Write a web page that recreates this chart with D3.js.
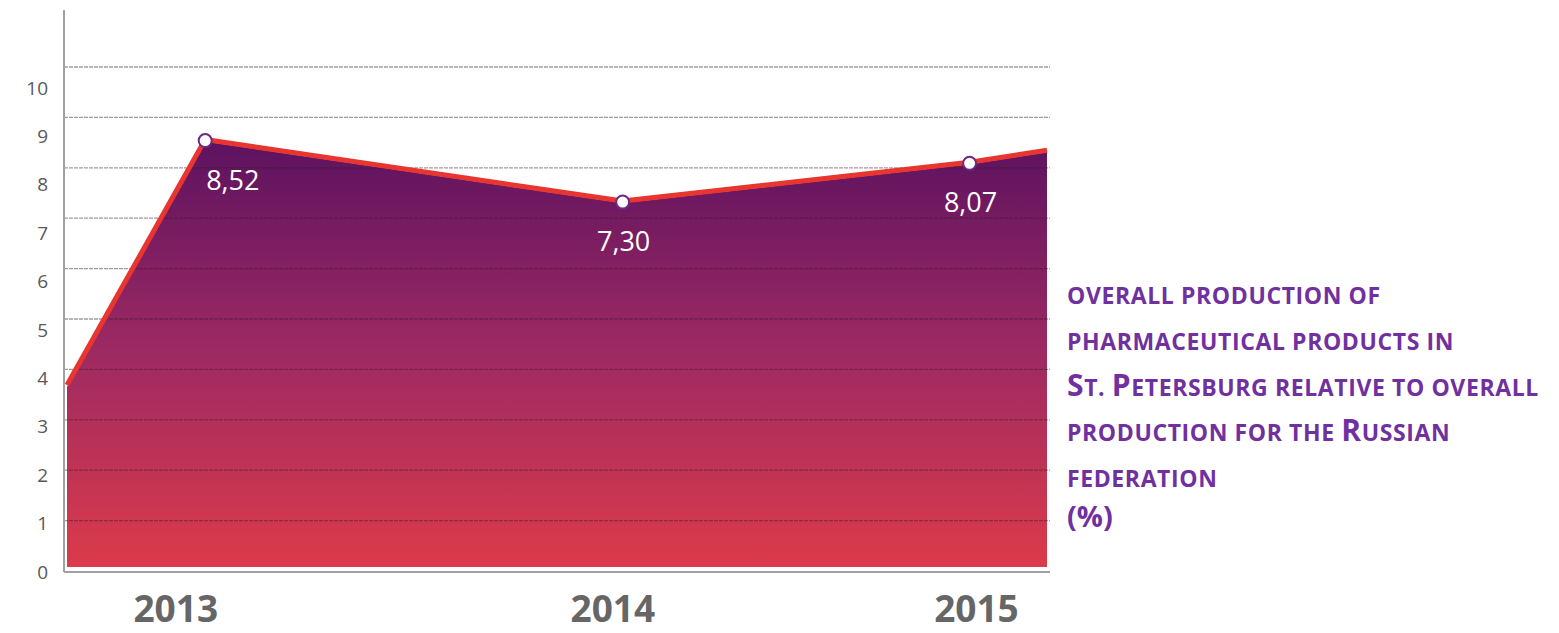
<!DOCTYPE html>
<html lang="en">
  <head>
    <meta charset="utf-8">
    <title>Pharmaceutical production St. Petersburg</title>
    <script src="https://d3js.org/d3.v7.min.js" charset="utf-8"></script>
    <style type="text/css">
      body {
        margin: 0;
        background: white;
        font-family: "Open Sans", "Noto Sans", sans-serif;
      }
    </style>
  </head>
  <body>
    <script>
      var width = 1559;
      var height = 633;

      // years shown under the chart and their values (%)
      var years = ["2013", "2014", "2015"];
      var values = [8.52, 7.30, 8.07];
      // where the series starts and ends (outside the labelled years)
      var startValue = 3.65;
      var endValue = 8.31;
      // horizontal position of every point, as share of the plot width
      var pointPos = [0, 0.141, 0.567, 0.921, 1];
      var yearLabelPos = [0.111, 0.557, 0.928];
      var yTicks = [0, 1, 2, 3, 4, 5, 6, 7, 8, 9, 10];
      var titleLines = [
        "overall production of",
        "pharmaceutical products in",
        "St. Petersburg relative to overall",
        "production for the Russian",
        "federation"
      ];
      var unitLabel = "(%)";

      var series = [startValue].concat(values, [endValue]);
      var points = series.map(function(v, i) { return { x: pointPos[i], v: v }; });

      var svg = d3.select("body")
        .append("svg")
        .attr("width", width)
        .attr("height", height);

      var x = d3.scaleLinear().domain([0, 1]).range([67, 1047]);
      var y = d3.scaleLinear().domain([0, 10]).range([571, 67]);
      // tick labels sit a little below the grid in the original
      var yLab = d3.scaleLinear().domain([0, 10]).range([572, 88]);

      // gradient fill
      var grad = svg.append("defs").append("linearGradient")
        .attr("id", "fillGrad")
        .attr("gradientUnits", "userSpaceOnUse")
        .attr("x1", 0).attr("x2", 0)
        .attr("y1", 140).attr("y2", 567);
      grad.append("stop").attr("offset", "0%").attr("stop-color", "#5c1260");
      grad.append("stop").attr("offset", "50%").attr("stop-color", "#9e2a62");
      grad.append("stop").attr("offset", "100%").attr("stop-color", "#dc3b4a");

      // area
      var area = d3.area()
        .x(function(d) { return x(d.x); })
        .y0(567)
        .y1(function(d) { return y(d.v); });

      svg.append("path")
        .datum(points)
        .attr("fill", "url(#fillGrad)")
        .attr("d", area);

      // gridlines drawn over the area
      svg.append("g")
        .selectAll("line")
        .data(yTicks.slice(1))
        .enter()
        .append("line")
        .attr("x1", 64)
        .attr("x2", 1050)
        .attr("y1", function(d) { return y(d); })
        .attr("y2", function(d) { return y(d); })
        .attr("stroke", "#3a1a28")
        .attr("stroke-opacity", 0.45)
        .attr("stroke-width", 1.3)
        .attr("stroke-dasharray", "4,1");

      // red line on top of the area
      var line = d3.line()
        .x(function(d) { return x(d.x); })
        .y(function(d) { return y(d.v) - 2; });

      svg.append("path")
        .datum(points)
        .attr("fill", "none")
        .attr("stroke", "#e8352f")
        .attr("stroke-width", 5)
        .attr("stroke-linejoin", "round")
        .attr("d", line);

      // axes lines
      svg.append("line")
        .attr("x1", 64).attr("x2", 64)
        .attr("y1", 10).attr("y2", 572)
        .attr("stroke", "#a0a0a0").attr("stroke-width", 2);
      svg.append("line")
        .attr("x1", 64).attr("x2", 1050)
        .attr("y1", 572).attr("y2", 572)
        .attr("stroke", "#a0a0a0").attr("stroke-width", 2);

      // y tick labels
      var yAxis = svg.append("g")
        .attr("transform", "translate(48,0)")
        .call(d3.axisLeft(yLab).tickValues(yTicks).tickSize(0).tickPadding(0));
      yAxis.select(".domain").remove();
      yAxis.selectAll("text")
        .attr("font-family", "Open Sans")
        .attr("font-size", 19)
        .attr("fill", "#595959");

      // markers
      var marked = points.slice(1, 4);
      svg.append("g")
        .selectAll("circle")
        .data(marked)
        .enter()
        .append("circle")
        .attr("cx", function(d) { return x(d.x); })
        .attr("cy", function(d) { return y(d.v) - 1; })
        .attr("r", 6.5)
        .attr("fill", "white")
        .attr("stroke", "#6b2a86")
        .attr("stroke-width", 2);

      // value labels
      svg.append("g")
        .selectAll("text")
        .data(marked)
        .enter()
        .append("text")
        .attr("x", function(d) { return x(d.x) + 1; })
        .attr("y", function(d) { return y(d.v) + 48; })
        .attr("text-anchor", function(d, i) { return i === 0 ? "start" : "middle"; })
        .attr("font-size", 27)
        .attr("fill", "white")
        .text(function(d) { return d.v.toFixed(2).replace(".", ","); });

      // year labels
      svg.append("g")
        .selectAll("text")
        .data(years)
        .enter()
        .append("text")
        .attr("x", function(d, i) { return x(yearLabelPos[i]); })
        .attr("y", 622)
        .attr("text-anchor", "middle")
        .attr("font-size", 37)
        .attr("font-weight", "bold")
        .attr("fill", "#666666")
        .text(function(d) { return d; });

      // title on the right, small caps built from two sizes
      var title = svg.append("g")
        .attr("font-weight", "bold")
        .attr("fill", "#7030a0");

      titleLines.forEach(function(s, i) {
        var t = title.append("text")
          .attr("x", 1067)
          .attr("y", 304 + i * 45.8)
          .attr("letter-spacing", 0.6);
        t.selectAll("tspan")
          .data(s.split(""))
          .enter()
          .append("tspan")
          .attr("font-size", function(c) {
            return (c !== c.toLowerCase()) ? 30 : 23;
          })
          .text(function(c) { return c.toUpperCase(); });
      });

      title.append("text")
        .attr("x", 1067)
        .attr("y", 527)
        .attr("font-size", 29)
        .text(unitLabel);
    </script>
  </body>
</html>
